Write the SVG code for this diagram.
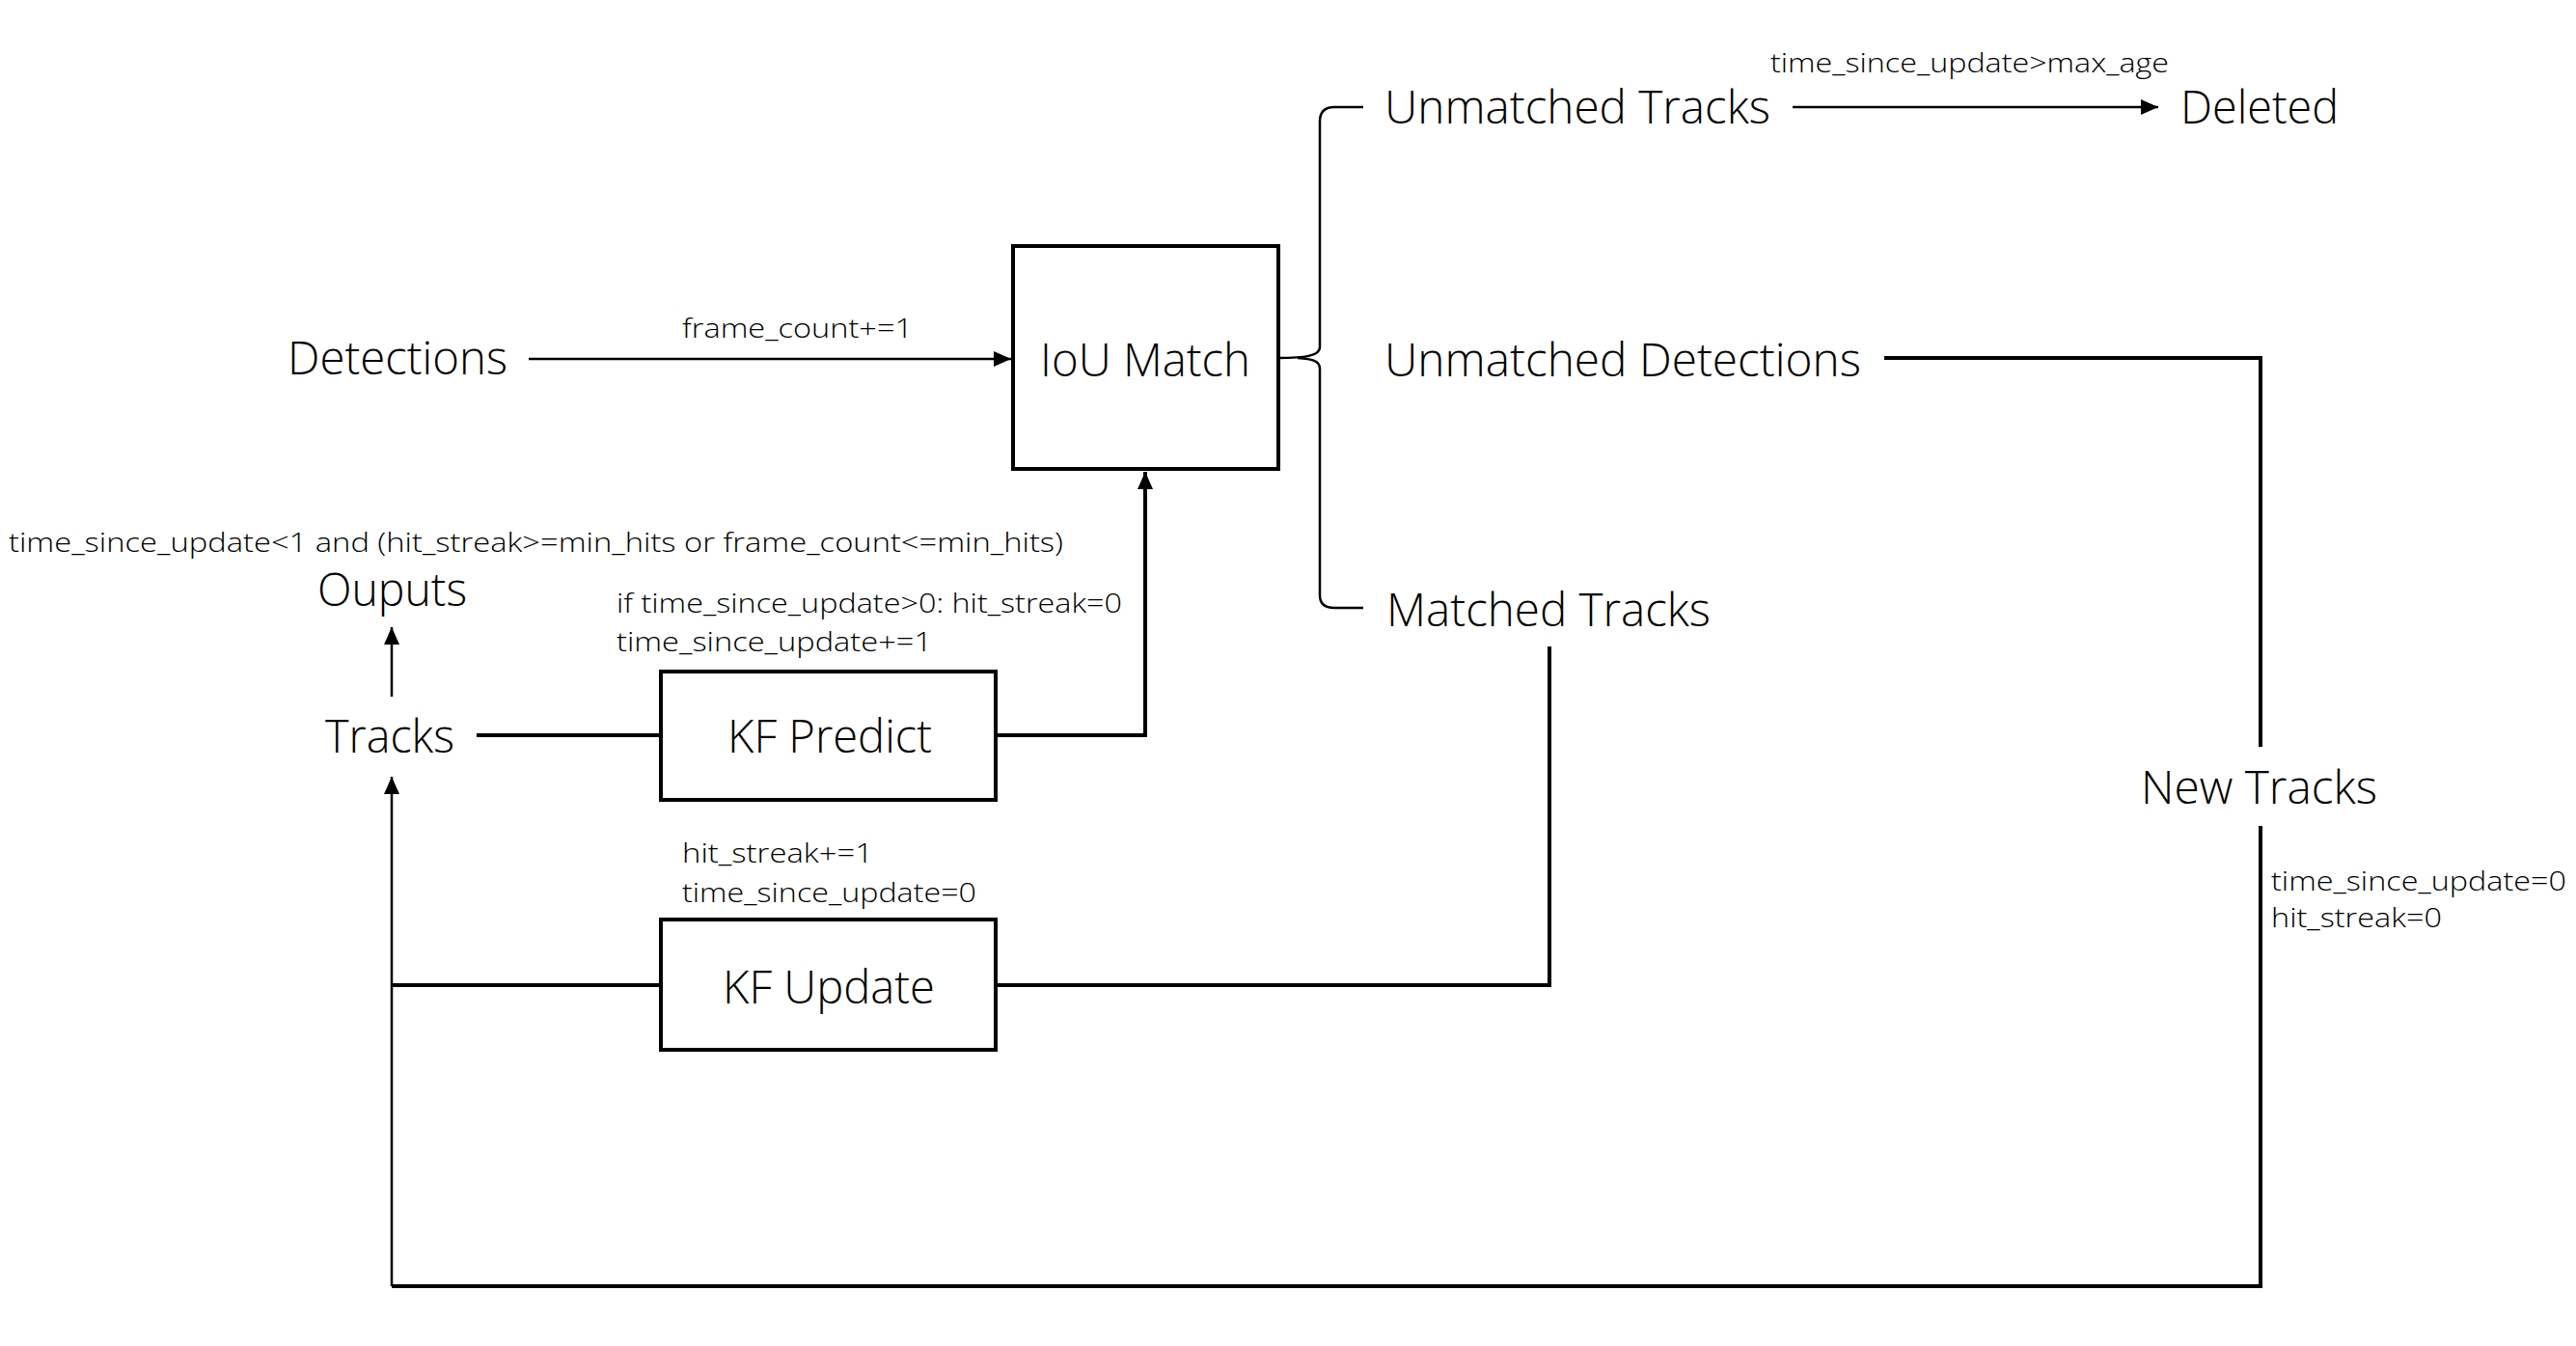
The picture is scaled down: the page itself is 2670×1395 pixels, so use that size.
<svg xmlns="http://www.w3.org/2000/svg" width="2670" height="1395" viewBox="0 0 2670 1395">
<style>
.bg{fill:#fff}
.box{fill:#fff;stroke:#000;stroke-width:4}
.lg{font-family:"Open Sans","Noto Sans","Liberation Sans",sans-serif;font-size:47px;font-weight:300;fill:#000}
.sm{font-family:"Open Sans","Noto Sans","Liberation Sans",sans-serif;font-size:28px;font-weight:300;fill:#000}
.ln{fill:none;stroke:#000;stroke-width:4}
.th{fill:none;stroke:#000;stroke-width:2.5}
</style>
<defs>
<marker id="ah" markerUnits="userSpaceOnUse" markerWidth="20" markerHeight="16" refX="18" refY="8" orient="auto">
<path d="M0,0 L18,8 L0,16 Z" fill="#000"/>
</marker>
</defs>
<rect class="bg" x="0" y="0" width="2670" height="1395"/>
<g id="connectors">
<path class="th" d="M548,372 H1048" marker-end="url(#ah)"/>
<path class="th" d="M1325,371 C1352,371 1368,369 1368,360 V126 Q1368,111 1383,111 H1413"/>
<path class="th" d="M1345,371 C1360,372 1368,374 1368,382 V617 Q1368,630 1383,630 H1413"/>
<path class="th" d="M1858,111 H2237" marker-end="url(#ah)"/>
<path class="ln" d="M1953,371 H2343 V774"/>
<path class="ln" d="M2343,856 V1333 H406"/>
<path class="th" d="M406,1333 V805" marker-end="url(#ah)"/>
<path class="ln" d="M1606,670 V1021 H1032"/>
<path class="ln" d="M685,1021 H406"/>
<path class="ln" d="M494,762 H685"/>
<path class="ln" d="M1032,762 H1187 V489" marker-end="url(#ah)"/>
<path class="th" d="M406,722 V650" marker-end="url(#ah)"/>
</g>
<g id="detections"><text class="lg" x="298" y="388" textLength="228" lengthAdjust="spacingAndGlyphs">Detections</text></g>
<g id="frame-label"><text class="sm" x="707" y="350" textLength="239" lengthAdjust="spacingAndGlyphs">frame_count+=1</text></g>
<g id="iou-match"><rect class="box" x="1050" y="255" width="275" height="231"/><text class="lg" x="1078" y="390" textLength="218" lengthAdjust="spacingAndGlyphs">IoU Match</text></g>
<g id="unmatched-tracks"><text class="lg" x="1435" y="128" textLength="400" lengthAdjust="spacingAndGlyphs">Unmatched Tracks</text></g>
<g id="delete-label"><text class="sm" x="1835" y="75" textLength="413" lengthAdjust="spacingAndGlyphs">time_since_update&gt;max_age</text></g>
<g id="deleted"><text class="lg" x="2260" y="128" textLength="164" lengthAdjust="spacingAndGlyphs">Deleted</text></g>
<g id="unmatched-detections"><text class="lg" x="1435" y="390" textLength="494" lengthAdjust="spacingAndGlyphs">Unmatched Detections</text></g>
<g id="matched-tracks"><text class="lg" x="1437" y="649" textLength="336" lengthAdjust="spacingAndGlyphs">Matched Tracks</text></g>
<g id="new-tracks"><text class="lg" x="2219" y="833" textLength="245" lengthAdjust="spacingAndGlyphs">New Tracks</text></g>
<g id="new-label"><text class="sm" x="2354" y="923" textLength="306" lengthAdjust="spacingAndGlyphs">time_since_update=0</text><text class="sm" x="2354" y="961" textLength="177" lengthAdjust="spacingAndGlyphs">hit_streak=0</text></g>
<g id="output-label"><text class="sm" x="9" y="572" textLength="1093" lengthAdjust="spacingAndGlyphs">time_since_update&lt;1 and (hit_streak&gt;=min_hits or frame_count&lt;=min_hits)</text></g>
<g id="ouputs"><text class="lg" x="329" y="628" textLength="155" lengthAdjust="spacingAndGlyphs">Ouputs</text></g>
<g id="tracks"><text class="lg" x="337" y="780" textLength="134" lengthAdjust="spacingAndGlyphs">Tracks</text></g>
<g id="predict-label"><text class="sm" x="639" y="635" textLength="524" lengthAdjust="spacingAndGlyphs">if time_since_update&gt;0: hit_streak=0</text><text class="sm" x="639" y="675" textLength="327" lengthAdjust="spacingAndGlyphs">time_since_update+=1</text></g>
<g id="kf-predict"><rect class="box" x="685" y="696" width="347" height="133"/><text class="lg" x="754" y="780" textLength="212" lengthAdjust="spacingAndGlyphs">KF Predict</text></g>
<g id="update-label"><text class="sm" x="707" y="894" textLength="198" lengthAdjust="spacingAndGlyphs">hit_streak+=1</text><text class="sm" x="707" y="935" textLength="305" lengthAdjust="spacingAndGlyphs">time_since_update=0</text></g>
<g id="kf-update"><rect class="box" x="685" y="953" width="347" height="135"/><text class="lg" x="749" y="1040" textLength="220" lengthAdjust="spacingAndGlyphs">KF Update</text></g>
</svg>
